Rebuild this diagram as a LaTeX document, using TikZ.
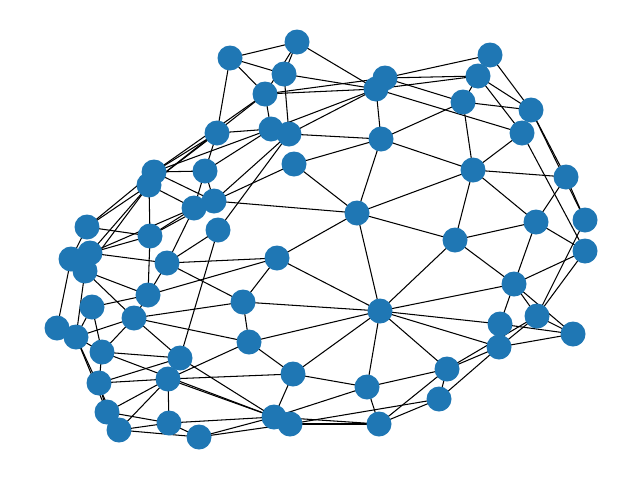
\documentclass[tikz,border=0pt]{standalone}
\usetikzlibrary{backgrounds}
\definecolor{nodeblue}{HTML}{1F77B4}
\tikzset{
  dot/.style={circle, fill=nodeblue, draw=none, minimum size=25pt, inner sep=0pt},
  edge/.style={black, line width=1.05pt}
}
\begin{document}
\begin{tikzpicture}[x=1pt,y=-1pt]
\useasboundingbox (0,0) rectangle (640,480);
\foreach \n/\x/\y in {
1/230/58, 2/297/42, 3/284/74, 4/265/94, 5/385/78, 6/376/89, 7/490/55, 8/478/76,
9/463/102, 10/531/110, 11/522/133, 12/217/133, 13/271/129, 14/289/134, 15/381/139,
16/294/164, 17/154/172, 18/149/185, 19/205/171, 20/473/170, 21/566/177, 22/194/208,
23/214/201, 24/357/213, 25/536/222, 26/585/220, 27/87/227, 28/150/236, 29/218/230,
30/455/240, 31/585/251, 32/90/253, 33/71/259, 34/85/271, 35/167/263, 36/277/258,
37/514/284, 38/148/295, 39/92/307, 40/243/302, 41/134/318, 42/380/311, 43/537/316,
44/500/324, 45/573/334, 46/57/328, 47/76/337, 48/249/342, 49/499/347, 50/102/352,
51/180/358, 52/168/379, 53/293/374, 54/367/387, 55/447/369, 56/99/383, 57/439/399,
58/107/412, 59/119/430, 60/169/423, 61/199/437, 62/274/417, 63/290/424, 64/379/424}
  \node[dot] (n\n) at (\x,\y) {};
\begin{scope}[on background layer]
\foreach \a/\b in {
1/2, 1/3, 1/4, 1/12, 2/3, 2/4, 2/6, 3/6, 3/14, 4/5, 4/6, 4/13, 4/17, 4/18,
13/6, 12/13, 12/17, 12/18, 12/19, 13/17, 14/15, 14/6, 5/6, 5/7, 5/8, 6/8, 5/9,
6/11, 6/15, 8/9, 8/10, 8/11, 7/10, 7/8, 9/10, 9/15, 9/20, 15/16, 15/20, 15/24,
11/20, 10/21, 20/21, 10/26, 11/31, 21/26, 20/24, 20/25, 20/30, 21/25, 25/30,
25/31, 25/37, 30/24, 30/37, 30/42, 31/37, 31/43, 26/43, 37/42, 37/43, 37/44,
37/45, 43/45, 44/45, 42/44, 42/49, 49/45, 49/55, 49/57, 43/55, 43/49,
24/16, 24/23, 24/36, 24/42, 16/23, 36/35, 36/40, 36/42, 40/41, 40/35, 40/42,
40/48, 48/41, 48/42, 48/52, 48/53, 42/53, 42/54, 42/55, 53/54, 53/62, 52/53,
54/55, 54/62, 54/64, 55/64, 55/57, 57/63, 57/64, 62/64, 63/64, 62/61, 63/61,
60/62, 51/62, 52/62,
17/19, 17/23, 18/22, 19/22, 19/23, 19/13, 23/14, 29/14, 29/51, 29/35, 22/35,
22/28, 23/28, 22/32, 18/28, 27/28, 17/27, 18/27, 18/32, 18/34, 32/28, 32/35,
28/38, 35/38, 34/38, 34/41, 38/39, 38/41, 38/36, 39/47, 33/46, 46/47, 27/33,
32/34, 34/47, 41/47, 41/50, 41/51, 50/51, 50/62, 56/51, 56/52, 51/52, 52/60,
58/52, 58/60, 59/60, 59/61, 59/52, 60/61, 47/58, 47/59, 50/56, 56/58, 58/59,
39/50, 47/50}
  \draw[edge] (n\a.center) -- (n\b.center);
\end{scope}
\end{tikzpicture}
\end{document}
